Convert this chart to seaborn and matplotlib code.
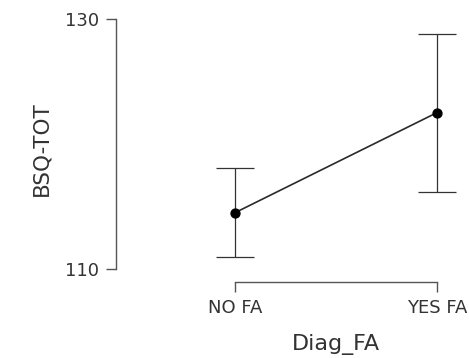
import matplotlib
matplotlib.use("Agg")
import matplotlib.pyplot as plt
import seaborn as sns
import pandas as pd

# data
categories = ["NO FA", "YES FA"]
means = [114.5, 122.5]
lower = [111.0, 116.2]
upper = [118.1, 128.8]
y_ticks = [110, 130]

df = pd.DataFrame({"Diag_FA": categories, "BSQ-TOT": means})

sns.set_style("white")
plt.rcParams["font.family"] = ["DejaVu Sans"]

W, H = 469, 358
fig = plt.figure(figsize=(W / 100, H / 100), dpi=100)
ax = fig.add_axes([134 / W, (H - 269) / H, (467 - 134) / W, (269 - 19) / H])

sns.pointplot(data=df, x="Diag_FA", y="BSQ-TOT", errorbar=None, color="#2a2a2a",
              markers="o", linewidth=1.2, markersize=6.5, ax=ax)
for ln in ax.lines:
    ln.set_markerfacecolor("black")
    ln.set_markeredgecolor("black")

err_lo = [m - l for m, l in zip(means, lower)]
err_hi = [u - m for m, u in zip(means, upper)]
ax.errorbar(range(len(categories)), means, yerr=[err_lo, err_hi], fmt="none",
            ecolor="#333333", elinewidth=0.9, capsize=14, capthick=0.9, zorder=1)

ax.set_xlim(-0.5, 1.15)
ax.set_ylim(110, 130)
ax.set_yticks(y_ticks)

sns.despine(ax=ax, trim=True)
ax.spines["left"].set_position(("outward", 13))
ax.spines["bottom"].set_position(("outward", 9.4))
for s in ["left", "bottom"]:
    ax.spines[s].set_color("#555555")
    ax.spines[s].set_linewidth(1.0)

ax.tick_params(axis="both", which="major", direction="out", length=7, width=1.0,
               color="#555555", labelcolor="#333333", labelsize=13, pad=5,
               left=True, bottom=True)

ax.set_xlabel("Diag_FA", fontsize=16, color="#333333")
ax.set_ylabel("BSQ-TOT", fontsize=15.5, color="#333333")
ax.xaxis.set_label_coords((336 - 134) / (467 - 134), -0.26)
ax.yaxis.set_label_coords((51 - 134) / (467 - 134), 0.48)

fig.savefig("out.png", dpi=100)
